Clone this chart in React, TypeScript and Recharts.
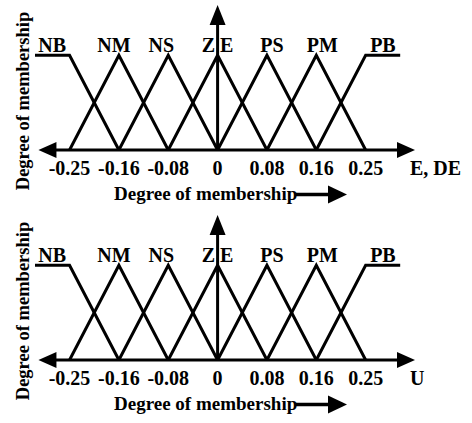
import { Line, LineChart, ReferenceDot, ReferenceLine, XAxis, YAxis } from "recharts"

// fuzzy sets, left to right
const setNames = ["NB", "NM", "NS", "Z E", "PS", "PM", "PB"]
// tick slots are evenly spaced on the drawing, labels are not
const tickSlots = [-3, -2, -1, 0, 1, 2, 3]
const tickLabels = ["-0.25", "-0.16", "-0.08", "0", "0.08", "0.16", "0.25"]
// where the NB / PB shoulders stop
const universeEdges = [-3.7, 3.7]
// horizontal axis arrow from / to
const axisEnds = [-3.63, 4]
const topValue = 1.53

const FONT = "'Liberation Serif', 'Times New Roman', serif"
// small horizontal nudges of the set names, in px
const nameNudge = [0, -5, -7, 0, 5, 6, 0]

type Pt = { x: number; mu: number }

const sets = setNames.map((name, i) => {
  const c = tickSlots[i]
  let points: Pt[]
  let labelX = c
  if (i === 0) {
    points = [
      { x: universeEdges[0], mu: 1 },
      { x: c, mu: 1 },
      { x: tickSlots[i + 1], mu: 0 },
    ]
    labelX = (universeEdges[0] + c) / 2
  } else if (i === setNames.length - 1) {
    points = [
      { x: tickSlots[i - 1], mu: 0 },
      { x: c, mu: 1 },
      { x: universeEdges[1], mu: 1 },
    ]
    labelX = (universeEdges[1] + c) / 2
  } else {
    points = [
      { x: tickSlots[i - 1], mu: 0 },
      { x: c, mu: 1 },
      { x: tickSlots[i + 1], mu: 0 },
    ]
  }
  return { name, points, labelX }
})

const HArrow = (p: any) => {
  const x1 = Math.min(p.x1, p.x2)
  const x2 = Math.max(p.x1, p.x2)
  const y = p.y1
  return (
    <g>
      <line x1={x1 + 10} y1={y} x2={x2 - 10} y2={y} stroke="#000" strokeWidth={3} />
      <polygon points={`${x1},${y} ${x1 + 18},${y - 8} ${x1 + 18},${y + 8}`} fill="#000" />
      <polygon points={`${x2},${y} ${x2 - 18},${y - 8} ${x2 - 18},${y + 8}`} fill="#000" />
    </g>
  )
}

const VArrow = (p: any) => {
  const top = Math.min(p.y1, p.y2)
  const bottom = Math.max(p.y1, p.y2)
  const x = p.x1
  return (
    <g>
      <line x1={x} y1={bottom} x2={x} y2={top + 10} stroke="#000" strokeWidth={3} />
      <polygon points={`${x},${top} ${x - 8},${top + 20} ${x + 8},${top + 20}`} fill="#000" />
    </g>
  )
}

const Panel = ({ outputName }: { outputName: string }) => {
  const xAxisLabel = (props: any) => {
    const vb = props.viewBox
    const right = vb.x + vb.width
    const lx = vb.x + 79
    const ly = vb.y + 49.5
    return (
      <g fontFamily={FONT} fontWeight="bold" fill="#000">
        <text x={right - 5} y={vb.y + 25} fontSize={20}>
          {outputName}
        </text>
        <text x={lx} y={ly} fontSize={19}>
          Degree of membership
        </text>
        <line x1={lx + 182} y1={ly - 5} x2={lx + 220} y2={ly - 5} stroke="#000" strokeWidth={3.5} />
        <polygon points={`${lx + 233},${ly - 5} ${lx + 214},${ly - 14} ${lx + 214},${ly + 4}`} fill="#000" />
      </g>
    )
  }

  const yAxisLabel = (props: any) => {
    const vb = props.viewBox
    const x = vb.x + 29
    const y = vb.y + 96
    return (
      <text
        x={x}
        y={y}
        transform={`rotate(-90, ${x}, ${y})`}
        textAnchor="middle"
        fontFamily={FONT}
        fontWeight="bold"
        fontSize={18.5}
        fill="#000"
      >
        Degree of membership
      </text>
    )
  }

  return (
    <LineChart width={472} height={210} margin={{ top: 5, right: 57, bottom: 0, left: 0 }}>
      <XAxis
        dataKey="x"
        type="number"
        domain={[universeEdges[0], axisEnds[1]]}
        ticks={tickSlots}
        interval={0}
        tickFormatter={(v: number) => tickLabels[tickSlots.indexOf(v)]}
        tickLine={false}
        axisLine={false}
        tickMargin={5}
        height={60}
        tick={{ fontFamily: FONT, fontWeight: "bold", fontSize: 20, fill: "#000" }}
        label={xAxisLabel}
      />
      <YAxis
        type="number"
        domain={[0, topValue]}
        width={35}
        tick={false}
        tickLine={false}
        axisLine={false}
        label={yAxisLabel}
      />
      <ReferenceLine
        segment={[
          { x: axisEnds[0], y: 0 },
          { x: axisEnds[1], y: 0 },
        ]}
        shape={HArrow}
      />
      <ReferenceLine x={0} shape={VArrow} />
      {sets.map((s) => (
        <Line
          key={s.name}
          data={s.points}
          dataKey="mu"
          type="linear"
          stroke="#000"
          strokeWidth={3}
          strokeLinejoin="miter"
          dot={false}
          activeDot={false}
          isAnimationActive={false}
        />
      ))}
      {sets.map((s, i) => (
        <ReferenceDot
          key={"lbl" + s.name}
          x={s.labelX}
          y={1}
          r={0}
          shape={(p: any) => (
            <text
              x={p.cx + nameNudge[i]}
              y={p.cy - 3.5}
              textAnchor="middle"
              fontFamily={FONT}
              fontWeight="bold"
              fontSize={20}
              fill="#000"
            >
              {s.name}
            </text>
          )}
        />
      ))}
    </LineChart>
  )
}

export default function App() {
  return (
    <div style={{ position: "absolute", left: 0, top: 0, width: 472, height: 423, background: "#fff" }}>
      <Panel outputName="E, DE" />
      <Panel outputName="U" />
    </div>
  )
}
